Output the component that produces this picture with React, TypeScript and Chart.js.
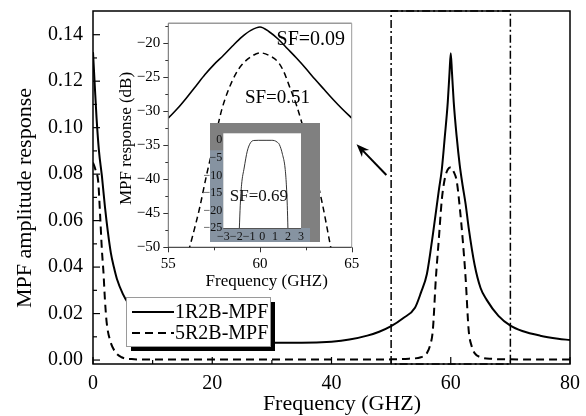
import React, { useEffect, useRef } from 'react';
import { Chart, registerables } from 'chart.js';

Chart.register(...registerables);

const SERIF = "'Liberation Serif', 'Times New Roman', serif";

// ---------------- Main chart data ----------------
const seriesNames = ['1R2B-MPF', '5R2B-MPF'];
const freqSolid = [0, 0.3, 0.6, 1.0, 1.5, 2.0, 2.5, 3.0, 3.5, 4.0, 5, 6, 8, 10, 13, 16, 20, 25, 30, 35, 40, 43, 46, 48, 50, 52, 54, 55, 56, 57, 58, 58.5, 59, 59.5, 59.8, 60, 60.2, 60.5, 61, 61.5, 62, 62.5, 63, 64, 65, 66, 68, 70, 72, 75, 78, 80];
const ampSolid = [0.1325, 0.118, 0.104, 0.09, 0.079, 0.066, 0.055, 0.046, 0.04, 0.035, 0.0285, 0.024, 0.0175, 0.014, 0.0112, 0.0096, 0.0085, 0.0078, 0.0074, 0.0074, 0.0079, 0.0088, 0.0105, 0.0122, 0.0146, 0.018, 0.0225, 0.029, 0.037, 0.054, 0.073, 0.082, 0.096, 0.111, 0.124, 0.132, 0.124, 0.111, 0.096, 0.084, 0.075, 0.067, 0.057, 0.041, 0.031, 0.026, 0.019, 0.0148, 0.0125, 0.0105, 0.0092, 0.0086];
const freqDashed = [0, 0.4, 0.9, 1.2, 1.5, 1.75, 2.0, 2.3, 2.85, 3.7, 4.8, 6.5, 10, 20, 30, 40, 50, 53, 55, 56, 56.5, 57, 57.5, 58, 58.5, 59, 59.5, 60, 60.5, 61, 61.5, 62, 62.5, 63, 63.5, 64, 65, 67, 70, 75, 80];
const ampDashed = [0.085, 0.082, 0.076, 0.062, 0.047, 0.038, 0.026, 0.016, 0.0086, 0.0036, 0.0012, 0.0004, 0.0002, 0.0002, 0.0002, 0.0002, 0.0003, 0.0006, 0.0012, 0.003, 0.006, 0.013, 0.035, 0.052, 0.069, 0.078, 0.082, 0.083, 0.081, 0.077, 0.066, 0.052, 0.035, 0.013, 0.006, 0.003, 0.0012, 0.0005, 0.0003, 0.0002, 0.0002];
const zoomBoxFreq = [50, 70];
const arrowFrom = [49.2, 0.0796];
const arrowTo = [44.2, 0.0929];
const Y_MIN = -0.0017;
const Y_MAX = 0.1502;

// ---------------- Inset data (dB) ----------------
const insetFreqSolid = [55, 55.5, 56, 56.5, 57, 57.5, 58, 58.5, 59, 59.5, 60, 60.5, 61, 61.5, 62, 62.5, 63, 63.5, 64, 64.5, 65];
const insetDbSolid = [-31.0, -29.6, -28.0, -26.3, -24.6, -23.1, -21.8, -20.4, -19.1, -18.1, -17.6, -18.3, -19.4, -20.8, -22.2, -23.7, -25.3, -26.8, -28.3, -29.7, -31.0];
const insetFreqDashed = [56.1, 56.3, 56.7, 57.1, 57.5, 57.9, 58.3, 58.7, 59.0, 59.5, 60.0, 60.5, 61.0, 61.3, 61.6, 62.0, 62.5, 63.0, 63.4, 63.8, 63.9];
const insetDbDashed = [-50.6, -48.6, -44.3, -39.2, -34.6, -29.9, -26.7, -24.4, -23.2, -22.0, -21.4, -21.8, -22.8, -24.2, -26.3, -29.2, -33.8, -38.9, -43.6, -49.2, -50.6];
const insetNotes = ['SF=0.09', 'SF=0.51'];
const insetNoteFreq = [60.9, 59.18];
const insetNoteDb = [-19.5, -28.1];
const insetNoteSize = [20, 19];

// ---------------- Inner inset data ----------------
const innerX = [-1.76, -1.69, -1.59, -1.39, -1.15, -0.9, -0.65, -0.3, 0.3, 0.7, 0.96, 1.15, 1.33, 1.57, 1.77, 1.87, 1.94, 1.99];
const innerDb = [-25, -18.5, -12.7, -7.9, -3.1, -0.7, -0.05, 0, 0, 0, -0.1, -0.5, -1.2, -4, -7.9, -12.7, -18.5, -25];
const innerNote = 'SF=0.69';
const innerNoteX = -2.5;
const innerNoteDb = -16;

const zip = (xs: number[], ys: number[]) => xs.map((x, i) => ({ x, y: ys[i] }));
const minus = (v: number) => (v < 0 ? '\u2212' + Math.abs(v) : String(v));

function line(ctx: CanvasRenderingContext2D, x1: number, y1: number, x2: number, y2: number) {
  ctx.beginPath();
  ctx.moveTo(x1, y1);
  ctx.lineTo(x2, y2);
  ctx.stroke();
}

const mainDecor = {
  id: 'mainDecor',
  afterDatasetsDraw(chart: any) {
    const { ctx } = chart;
    const { x, y } = chart.scales;
    const lx = 126, ly = 297, lw = 144, lh = 49;
    ctx.save();
    ctx.fillStyle = '#000';
    ctx.fillRect(lx + 5, ly + 5, lw, lh);
    ctx.fillStyle = '#fff';
    ctx.fillRect(lx, ly, lw, lh);
    ctx.strokeStyle = '#9a9a9a';
    ctx.lineWidth = 1;
    ctx.strokeRect(lx + 0.5, ly + 0.5, lw, lh);
    const rows = [ly + 15, ly + 36];
    chart.data.datasets.slice(0, 2).forEach((ds: any, i: number) => {
      ctx.strokeStyle = '#000';
      ctx.lineWidth = 2;
      ctx.setLineDash(ds.borderDash || []);
      line(ctx, lx + 6, rows[i], lx + 48, rows[i]);
      ctx.setLineDash([]);
      ctx.fillStyle = '#000';
      ctx.font = `20px ${SERIF}`;
      ctx.textAlign = 'left';
      ctx.textBaseline = 'middle';
      ctx.fillText(ds.label, lx + 49, rows[i] + 1);
    });
    const x1 = x.getPixelForValue(arrowFrom[0]), y1 = y.getPixelForValue(arrowFrom[1]);
    const x2 = x.getPixelForValue(arrowTo[0]), y2 = y.getPixelForValue(arrowTo[1]);
    const a = Math.atan2(y2 - y1, x2 - x1);
    const c = Math.cos(a), s = Math.sin(a);
    ctx.strokeStyle = '#000';
    ctx.lineWidth = 2;
    line(ctx, x1, y1, x2 - c * 8, y2 - s * 8);
    const L = 13, W = 5;
    const bx = x2 - L * c, by = y2 - L * s;
    ctx.beginPath();
    ctx.moveTo(x2, y2);
    ctx.lineTo(bx - W * s, by + W * c);
    ctx.lineTo(x2 - 0.7 * L * c, y2 - 0.7 * L * s);
    ctx.lineTo(bx + W * s, by - W * c);
    ctx.closePath();
    ctx.fillStyle = '#000';
    ctx.fill();
    ctx.restore();
  },
  afterDraw(chart: any) {
    const { ctx, chartArea: ca } = chart;
    const { x, y } = chart.scales;
    ctx.save();
    ctx.strokeStyle = '#000';
    ctx.lineWidth = 1.2;
    for (let i = 0; i <= 8; i++) {
      const px = x.getPixelForValue(i * 10);
      line(ctx, px, ca.bottom, px, ca.bottom - (i % 2 === 0 ? 7 : 4));
    }
    for (let i = 0; i <= 14; i++) {
      const py = y.getPixelForValue(i * 0.01);
      line(ctx, ca.left, py, ca.left + (i % 2 === 0 ? 7 : 4), py);
    }
    ctx.lineWidth = 1.5;
    ctx.strokeRect(ca.left, ca.top, ca.right - ca.left, ca.bottom - ca.top);
    ctx.fillStyle = '#000';
    ctx.font = `22px ${SERIF}`;
    ctx.textAlign = 'center';
    ctx.textBaseline = 'middle';
    ctx.fillText('Frequency (GHZ)', 342, 404);
    ctx.translate(25, 198);
    ctx.rotate(-Math.PI / 2);
    ctx.fillText('MPF amplitude response', 0, 0);
    ctx.restore();
  },
};

const insetDecor = {
  id: 'insetDecor',
  beforeDatasetsDraw(chart: any) {
    const { ctx } = chart;
    const { x, y } = chart.scales;
    ctx.save();
    ctx.fillStyle = '#000';
    ctx.textAlign = 'left';
    ctx.textBaseline = 'middle';
    insetNotes.forEach((t, i) => {
      ctx.font = `${insetNoteSize[i]}px ${SERIF}`;
      ctx.fillText(t, x.getPixelForValue(insetNoteFreq[i]), y.getPixelForValue(insetNoteDb[i]));
    });
    ctx.restore();
  },
  afterDraw(chart: any) {
    const { ctx, chartArea: ca } = chart;
    const { x, y } = chart.scales;
    ctx.save();
    ctx.lineWidth = 1;
    ctx.strokeStyle = '#333';
    for (let v = 55; v <= 65; v += 2.5) {
      const px = Math.round(x.getPixelForValue(v)) + 0.5;
      line(ctx, px, ca.bottom, px, ca.bottom + (v % 5 === 0 ? 5 : 3));
    }
    for (let v = -50; v <= -17.5; v += 2.5) {
      const py = Math.round(y.getPixelForValue(v)) + 0.5;
      line(ctx, ca.left, py, ca.left - (v % 5 === 0 ? 5 : 3), py);
    }
    ctx.strokeStyle = '#9a9a9a';
    ctx.lineWidth = 1.5;
    line(ctx, ca.left, ca.top, ca.right, ca.top);
    ctx.lineWidth = 1;
    line(ctx, ca.right, ca.top, ca.right, ca.bottom);
    ctx.strokeStyle = '#666';
    line(ctx, ca.left, ca.top, ca.left, ca.bottom);
    ctx.strokeStyle = '#222';
    line(ctx, ca.left, ca.bottom, ca.right, ca.bottom);
    ctx.fillStyle = '#000';
    ctx.font = `17px ${SERIF}`;
    ctx.textAlign = 'center';
    ctx.textBaseline = 'middle';
    ctx.fillText('Frequency (GHZ)', 166.7, 271.7);
    ctx.translate(27, 128.5);
    ctx.rotate(-Math.PI / 2);
    ctx.fillText('MPF response (dB)', 0, 0);
    ctx.restore();
  },
};

const innerDecor = {
  id: 'innerDecor',
  beforeDraw(chart: any) {
    const { ctx, chartArea: ca } = chart;
    const fl = ca.left - 13.3, ft = ca.top - 10.3, fr = ca.right + 19, fb = ca.bottom + 14;
    ctx.save();
    ctx.fillStyle = '#808080';
    ctx.fillRect(fl, ft, fr - fl, fb - ft);
    ctx.fillStyle = '#8693a1';
    ctx.fillRect(fl, ca.top + 17, ca.left - fl, fb - ca.top - 17);
    ctx.fillRect(fl, ca.bottom, ca.right + 9 - fl, fb - ca.bottom);
    ctx.fillStyle = '#fff';
    ctx.fillRect(ca.left, ca.top, ca.right - ca.left, ca.bottom - ca.top);
    ctx.restore();
  },
  afterDraw(chart: any) {
    const { ctx, chartArea: ca } = chart;
    const { x, y } = chart.scales;
    ctx.save();
    ctx.strokeStyle = '#555';
    ctx.lineWidth = 1;
    line(ctx, ca.left, ca.bottom + 0.5, ca.right, ca.bottom + 0.5);
    ctx.fillStyle = '#111';
    ctx.font = `17px ${SERIF}`;
    ctx.textAlign = 'left';
    ctx.textBaseline = 'middle';
    ctx.fillText(innerNote, x.getPixelForValue(innerNoteX), y.getPixelForValue(innerNoteDb));
    ctx.restore();
  },
};

const commonOpts = {
  responsive: false,
  animation: false,
  events: [],
  plugins: { legend: { display: false }, tooltip: { enabled: false } },
};

function mainConfig(): any {
  return {
    type: 'line',
    data: {
      datasets: [
        { label: seriesNames[0], data: zip(freqSolid, ampSolid), borderColor: '#000', borderWidth: 2, pointRadius: 0, cubicInterpolationMode: 'monotone', fill: false },
        { label: seriesNames[1], data: zip(freqDashed, ampDashed), borderColor: '#000', borderWidth: 2, borderDash: [8, 5], pointRadius: 0, cubicInterpolationMode: 'monotone', fill: false },
        {
          label: 'zoom',
          data: [
            { x: zoomBoxFreq[0], y: Y_MIN }, { x: zoomBoxFreq[0], y: Y_MAX },
            { x: zoomBoxFreq[1], y: Y_MAX }, { x: zoomBoxFreq[1], y: Y_MIN },
            { x: zoomBoxFreq[0], y: Y_MIN },
          ],
          borderColor: '#000', borderWidth: 1.5, borderDash: [8, 3, 2, 3], pointRadius: 0, tension: 0, clip: false, fill: false,
        },
      ],
    },
    options: {
      ...commonOpts,
      layout: { padding: { left: 0, top: 11, right: 16, bottom: 0 } },
      scales: {
        x: {
          type: 'linear', min: 0, max: 80,
          grid: { display: false, drawTicks: false }, border: { display: false },
          ticks: { stepSize: 20, color: '#000', font: { family: SERIF, size: 20 }, padding: 8, maxRotation: 0, autoSkip: false },
          afterFit: (s: any) => { s.height = 52; s.paddingLeft = 0; s.paddingRight = 0; },
        },
        y: {
          type: 'linear', min: Y_MIN, max: Y_MAX,
          grid: { display: false, drawTicks: false }, border: { display: false },
          ticks: { stepSize: 0.02, includeBounds: false, color: '#000', font: { family: SERIF, size: 20 }, padding: 10, callback: (v: any) => Number(v).toFixed(2) },
          afterFit: (s: any) => { s.width = 93; s.paddingTop = 0; s.paddingBottom = 0; },
        },
      },
    },
    plugins: [mainDecor],
  };
}

function insetConfig(): any {
  return {
    type: 'line',
    data: {
      datasets: [
        { label: 'SF=0.09', data: zip(insetFreqSolid, insetDbSolid), borderColor: '#000', borderWidth: 1.6, pointRadius: 0, cubicInterpolationMode: 'monotone', fill: false },
        { label: 'SF=0.51', data: zip(insetFreqDashed, insetDbDashed), borderColor: '#000', borderWidth: 1.5, borderDash: [6, 4], pointRadius: 0, cubicInterpolationMode: 'monotone', fill: false },
      ],
    },
    options: {
      ...commonOpts,
      layout: { padding: { left: 0, top: 13.3, right: 8.3, bottom: 0 } },
      scales: {
        x: {
          type: 'linear', min: 55, max: 65,
          grid: { display: false, drawTicks: false }, border: { display: false },
          ticks: { stepSize: 5, color: '#000', font: { family: SERIF, size: 15 }, padding: 8, maxRotation: 0, autoSkip: false },
          afterFit: (s: any) => { s.height = 52.7; s.paddingLeft = 0; s.paddingRight = 0; },
        },
        y: {
          type: 'linear', min: -50, max: -17.06,
          grid: { display: false, drawTicks: false }, border: { display: false },
          ticks: { stepSize: 5, includeBounds: false, color: '#000', font: { family: SERIF, size: 15 }, padding: 8, callback: (v: any) => minus(Number(v)) },
          afterFit: (s: any) => { s.width = 68.3; s.paddingTop = 0; s.paddingBottom = 0; },
        },
      },
    },
    plugins: [insetDecor],
  };
}

function innerConfig(): any {
  return {
    type: 'line',
    data: {
      datasets: [
        { label: 'SF=0.69', data: zip(innerX, innerDb), borderColor: '#333', borderWidth: 1, pointRadius: 0, cubicInterpolationMode: 'monotone', fill: false },
      ],
    },
    options: {
      ...commonOpts,
      layout: { padding: { left: 0, top: 13.3, right: 23, bottom: 0 } },
      scales: {
        x: {
          type: 'linear', min: -3, max: 3,
          grid: { display: false, drawTicks: false }, border: { display: false },
          ticks: { stepSize: 1, color: '#111', font: { family: SERIF, size: 12 }, padding: 2, maxRotation: 0, autoSkip: false, callback: (v: any) => minus(Number(v)) },
          afterFit: (s: any) => { s.height = 18; s.paddingLeft = 0; s.paddingRight = 0; },
        },
        y: {
          type: 'linear', min: -25, max: 2,
          grid: { display: false, drawTicks: false }, border: { display: false },
          ticks: { stepSize: 5, includeBounds: false, color: '#111', font: { family: SERIF, size: 12 }, padding: 1, callback: (v: any) => minus(Number(v)) },
          afterFit: (s: any) => { s.width = 33.3; s.paddingTop = 0; s.paddingBottom = 0; },
        },
      },
    },
    plugins: [innerDecor],
  };
}

export default function App() {
  const mainRef = useRef<HTMLCanvasElement>(null);
  const insetRef = useRef<HTMLCanvasElement>(null);
  const innerRef = useRef<HTMLCanvasElement>(null);

  useEffect(() => {
    const charts = [
      new Chart(mainRef.current as HTMLCanvasElement, mainConfig()),
      new Chart(insetRef.current as HTMLCanvasElement, insetConfig()),
      new Chart(innerRef.current as HTMLCanvasElement, innerConfig()),
    ];
    return () => charts.forEach((c) => c.destroy());
  }, []);

  return (
    <div style={{ position: 'absolute', left: 0, top: 0, width: 586, height: 416, background: '#fff', overflow: 'hidden' }}>
      <canvas ref={mainRef} width={586} height={416} style={{ position: 'absolute', left: 0, top: 0 }} />
      <canvas ref={insetRef} width={260} height={290} style={{ position: 'absolute', left: 100, top: 10 }} />
      <canvas ref={innerRef} width={134} height={126} style={{ position: 'absolute', left: 190, top: 120 }} />
    </div>
  );
}
